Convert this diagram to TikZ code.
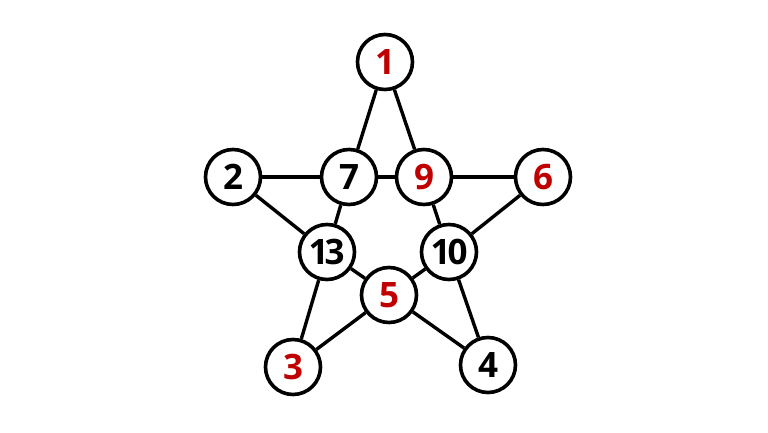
\documentclass[tikz,border=0pt]{standalone}
\usepackage{fontspec}
\setmainfont{Open Sans}
\begin{document}
\begin{tikzpicture}[x=1pt,y=1pt,
  vtx/.style={circle,draw=black,line width=3.6pt,fill=white,minimum size=55pt,inner sep=0pt,font=\fontsize{35}{35}\selectfont\bfseries},
  edge/.style={line width=3.4pt,draw=black}]
\definecolor{redtxt}{HTML}{C00000}
\useasboundingbox (0,0) rectangle (768,432);
\fill[white] (0,0) rectangle (768,432);
\node[vtx,text=redtxt] (n1) at (385,370) {1};
\node[vtx] (n2) at (233,255) {2};
\node[vtx] (n7) at (349,255) {7};
\node[vtx,text=redtxt] (n9) at (424,255) {9};
\node[vtx,text=redtxt] (n6) at (543,255) {6};
\node[vtx] (n13) at (327,180) {\kern-1pt1\kern-4pt3};
\node[vtx] (n10) at (449,180) {1\kern-3pt0};
\node[vtx,text=redtxt] (n5) at (389,137) {5};
\node[vtx,text=redtxt] (n3) at (293,65) {3};
\node[vtx] (n4) at (488,67) {4};
\draw[edge] (n1) -- (n7);
\draw[edge] (n1) -- (n9);
\draw[edge] (n2) -- (n7);
\draw[edge] (n7) -- (n9);
\draw[edge] (n9) -- (n6);
\draw[edge] (n2) -- (n13);
\draw[edge] (n7) -- (n13);
\draw[edge] (n9) -- (n10);
\draw[edge] (n6) -- (n10);
\draw[edge] (n13) -- (n5);
\draw[edge] (n5) -- (n10);
\draw[edge] (n13) -- (n3);
\draw[edge] (n3) -- (n5);
\draw[edge] (n5) -- (n4);
\draw[edge] (n10) -- (n4);
\end{tikzpicture}
\end{document}
